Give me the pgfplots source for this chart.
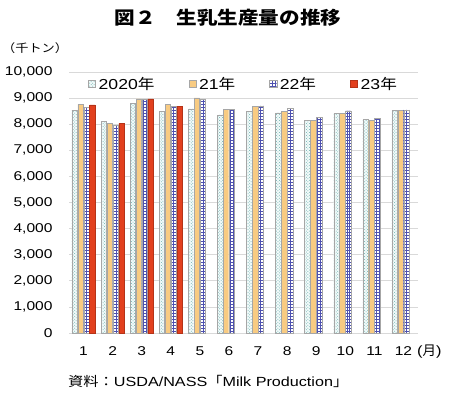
\documentclass[border=0pt]{standalone}
\usepackage{pgfplots}
\pgfplotsset{compat=1.18}
\usetikzlibrary{patterns}
\usepackage{fontspec}
\setmainfont{Liberation Sans}[FakeStretch=1.22]
\newfontfamily\cjk{Noto Sans CJK JP}[FakeStretch=1.15]
\newfontfamily\cjkn{Noto Sans CJK JP}
\definecolor{gridgray}{HTML}{D9D9D9}
\definecolor{barborder}{HTML}{A6A6A6}
\definecolor{orangefill}{HTML}{F8CB82}
\definecolor{redfill}{HTML}{E2401E}
\definecolor{bluegrid}{HTML}{4F52B0}
\definecolor{dotteal}{HTML}{6FB3B0}
\definecolor{dotbg}{HTML}{F2FAFA}
\begin{document}
\begin{tikzpicture}
\path[use as bounding box] (0,0) rectangle (450bp,-394bp);
\begin{axis}[
  at={(69bp,-333bp)}, anchor=south west,
  scale only axis, width=349bp, height=261bp,
  ymin=0, ymax=10000, xmin=0.5, xmax=12.5,
  ytick={0,1000,...,10000},
  xtick={1,...,12},
  scaled y ticks=false,
  /pgf/number format/assume math mode=true,
  /pgf/number format/1000 sep={,},
  ymajorgrids, grid style={gridgray, line width=0.8pt},
  axis y line*=left, y axis line style={draw=none},
  axis x line*=bottom, x axis line style={gridgray, line width=0.8pt},
  major tick length=0pt,
  tick label style={font=\fontsize{12.8}{14}\selectfont},
  yticklabel style={xshift=-13bp},
  xticklabel style={yshift=-10bp},
  ybar=0.5bp, bar width=5.4bp,
  legend style={at={(0.5,0.955)}, anchor=center, draw=none, fill=none,
    font=\fontsize{14.5}{16}\selectfont, legend columns=4,
    /tikz/every odd column/.append style={column sep=1bp},
    /tikz/every even column/.append style={column sep=32bp}},
  legend image code/.code={\draw[#1, line width=0.4pt] (0bp,-3.6bp) rectangle (7.2bp,3.6bp);},
]
\addplot[draw=barborder, line width=0.4pt, fill=dotbg, postaction={pattern=crosshatch dots, pattern color=dotteal}] coordinates {
(1,8540) (2,8100) (3,8800) (4,8480) (5,8590) (6,8360) (7,8500) (8,8440) (9,8150) (10,8420) (11,8190) (12,8530)};
\addplot[draw=barborder, line width=0.4pt, fill=orangefill] coordinates {
(1,8760) (2,8020) (3,8970) (4,8770) (5,9010) (6,8580) (7,8690) (8,8480) (9,8140) (10,8420) (11,8140) (12,8520)};
\addplot[draw=barborder, line width=0.4pt, fill=white, postaction={pattern=grid, pattern color=bluegrid}] coordinates {
(1,8650) (2,7950) (3,8940) (4,8690) (5,8950) (6,8570) (7,8700) (8,8620) (9,8270) (10,8510) (11,8220) (12,8550)};
\addplot[draw=redfill!80!black, line width=0.4pt, fill=redfill] coordinates {
(1,8740) (2,8030) (3,8970) (4,8690)};
\legend{2020{\cjk 年},21{\cjk 年},22{\cjk 年},23{\cjk 年}}
\end{axis}
\node[font=\cjk\bfseries\fontsize{18}{20}\selectfont] at (228bp,-18bp) {図２　生乳生産量の推移};
\node[font=\cjk\fontsize{11.5}{13}\selectfont, anchor=west, inner sep=0pt] at (2bp,-48bp) {（千トン）};
\node[font=\fontsize{13.5}{15}\selectfont, anchor=west, inner sep=0pt] at (417bp,-352bp) {({\cjkn 月})};
\node[font=\fontsize{13.3}{15}\selectfont, anchor=west, inner sep=0pt] at (68bp,-381bp) {{\cjk 資料：}USDA/NASS{\cjk 「}Milk Production{\cjk 」}};
\end{tikzpicture}
\end{document}
